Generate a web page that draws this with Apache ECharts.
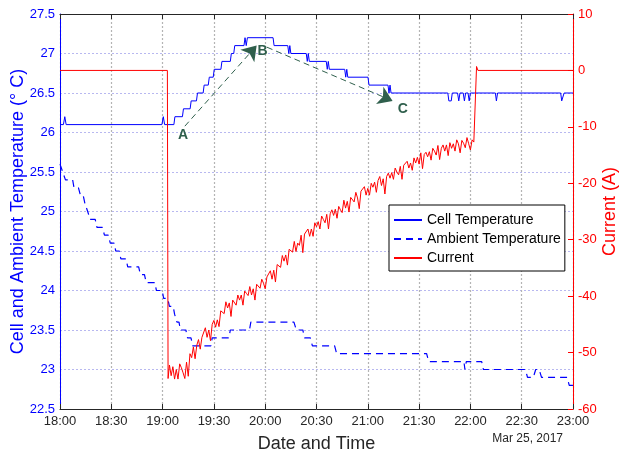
<!DOCTYPE html>
<html>
<head>
<meta charset="utf-8">
<script src="https://cdn.jsdelivr.net/npm/echarts@6/dist/echarts.min.js"></script>
<style>html,body{margin:0;padding:0;background:#fff;}#c{width:621px;height:452px;}</style>
</head>
<body>
<div id="c"></div>
<script>
// x values are minutes after 18:00
const timeLabels = ['18:00','18:30','19:00','19:30','20:00','20:30','21:00','21:30','22:00','22:30','23:00'];
const tempTicks = [22.5, 27.5, 0.5];
const currentTicks = [-60, 10, 10];

const cellTemp = [[0,26.1],[2,26.1],[2.8,26.2],[3.6,26.1],[59.6,26.1],[60.4,26.2],[61.2,26.1],[66.6,26.1],[67.2,26.2],[71.6,26.2],[72.2,26.3],[76.1,26.3],[76.7,26.4],[79.8,26.4],[80.4,26.5],[83.7,26.5],[84.3,26.6],[86.7,26.6],[87.3,26.7],[89.6,26.7],[90.2,26.8],[94.1,26.8],[94.7,26.9],[99.6,26.9],[100.2,27.0],[101.6,27.0],[102.2,27.1],[107.6,27.1],[108.2,27.2],[108.9,27.1],[109.6,27.2],[124.6,27.2],[125.2,27.1],[133.2,27.1],[133.8,27.0],[134.4,27.1],[135,27.0],[144,27.0],[144.6,26.9],[145.2,27.0],[145.8,26.9],[155.7,26.9],[156.3,26.8],[156.9,26.9],[157.5,26.8],[166.5,26.8],[167.1,26.7],[167.7,26.8],[168.3,26.7],[180.1,26.7],[180.7,26.6],[191.8,26.6],[192.4,26.5],[193,26.6],[193.6,26.5],[226.8,26.5],[227.4,26.4],[228.8,26.4],[229.4,26.5],[232.5,26.5],[233.2,26.4],[233.9,26.5],[235.8,26.5],[236.5,26.4],[237.2,26.5],[238.6,26.5],[239.3,26.4],[240,26.5],[254.6,26.5],[255.2,26.4],[255.9,26.5],[292.8,26.5],[293.4,26.4],[294.2,26.4],[294.8,26.5],[300,26.5]];

const ambientTemp = [[0,25.6],[3.2,25.4],[7.4,25.4],[8.2,25.3],[10.8,25.3],[12,25.2],[13.6,25.2],[14.6,25.1],[15.4,25.1],[16.2,25.0],[17.6,24.9],[20.6,24.9],[21.6,24.8],[24.8,24.8],[26,24.7],[28.2,24.7],[29.4,24.6],[31.6,24.6],[32.6,24.5],[34.6,24.5],[35.6,24.4],[38.6,24.4],[39.6,24.3],[46,24.3],[47,24.2],[49.4,24.2],[50.4,24.1],[55.4,24.1],[56.4,24.0],[59.8,24.0],[60.6,23.9],[63,23.9],[64,23.8],[66.2,23.8],[67,23.7],[68.4,23.6],[69.6,23.6],[70.4,23.5],[73.6,23.5],[74.6,23.4],[76.6,23.4],[77.6,23.3],[88.2,23.3],[89,23.4],[98.8,23.4],[99.6,23.5],[110.8,23.5],[111.6,23.6],[136.8,23.6],[138.2,23.5],[142,23.5],[143,23.4],[146.4,23.4],[147.6,23.3],[160.6,23.3],[161.8,23.2],[214.4,23.2],[215.6,23.1],[236.2,23.1],[236.8,23.0],[237.6,23.1],[246.6,23.1],[247.6,23.0],[272.2,23.0],[273.4,22.9],[276.8,22.9],[278.2,23.0],[280.2,23.0],[281.6,22.9],[296.6,22.9],[297.8,22.8],[300,22.8]];

const currentBefore = [[0,0],[62.8,0],[63.2,-54.6]];
const currentStartMinute = 64;
const currentVals = [-52.2,-54.1,-52.5,-54.7,-53.0,-54.7,-52.0,-52.7,-53.6,-54.6,-51.7,-54.2,
-50.2,-50.9,-49.0,-51.1,-48.7,-47.7,-49.4,-47.3,-47.5,-45.6,-47.3,-46.0,-47.9,-45.0,-44.3,-45.5,-44.2,-45.4,-42.6,-42.9,-43.1,-41.0,-42.1,-41.2,
-43.6,-40.7,-41.0,-41.6,-39.8,-40.7,-39.8,-41.6,-39.1,-39.5,-39.9,-38.3,-39.8,-38.7,-40.7,-37.9,-38.2,-38.6,-37.0,-37.7,
-38.7,-36.6,-36.7,-35.5,-37.0,-35.4,-37.5,-34.4,-34.5,-34.9,-32.8,-33.8,-32.7,-34.5,-31.7,-31.8,-32.2,-30.3,-32.1,-30.6,
-31.0,-29.2,-32.3,-29.0,-29.2,-28.1,-29.4,-28.1,-29.4,-27.0,-27.7,-26.8,-28.1,-25.8,-26.4,-27.0,-25.5,-28.1,-25.4,-24.7,
-25.7,-24.6,-26.2,-24.1,-24.7,-25.2,-23.0,-24.4,-23.2,-25.1,-22.5,-22.8,-23.3,-21.6,-22.6,-24.5,-21.4,-21.5,-20.6,-22.1,
-20.9,-22.1,-20.0,-20.7,-19.8,-21.6,-19.5,-18.8,-20.4,-19.2,-21.9,-18.8,-18.2,-19.1,-18.1,-19.3,-17.3,-18.0,-18.5,-17.0,
-19.3,-16.8,-17.0,-16.1,-17.3,-16.4,-17.7,-15.5,-16.4,-15.4,-16.6,-14.6,-17.4,-14.9,-14.5,-15.3,-14.4,-15.9,-13.8,-14.3,
-15.0,-13.3,-15.8,-13.8,-13.2,-14.3,-13.2,-15.1,-12.8,-13.8,-13.0,-14.3,-12.3,-13.0,-14.6,-12.4,-12.9,-13.7,-11.9,-13.0,
-14.1,-12.3,-12.7,-12.7];
const currentAfter = [[243.6,0.7],[244.4,0],[300,0]];

// annotation arrows (minute, temperature)
const arrowAB = [[73,26.08],[115,27.1]];
const arrowBC = [[121,27.08],[194.5,26.4]];
const annotLabels = [['A',72,25.97],['B',118.5,27.03],['C',200.5,26.3]];

const currentData = currentBefore
  .concat(currentVals.map((v,i)=>[currentStartMinute+i, v]))
  .concat(currentAfter);

const green = '#2f5f4c';
const chart = echarts.init(document.getElementById('c'), null, {renderer:'canvas'});
const font = 'Liberation Sans, Arial, sans-serif';
chart.setOption({
  animation: false,
  textStyle: {fontFamily: font},
  grid: {left: 60, right: 48, top: 14, bottom: 43, show: false, containLabel: false, outerBoundsMode: 'none'},
  legend: {
    orient: 'vertical', left: 389, top: 205,
    padding: [8, 4, 6, 4], itemGap: 5, itemWidth: 28, itemHeight: 14,
    borderColor: '#000', borderWidth: 1, backgroundColor: '#fff',
    itemStyle: {opacity: 0},
    textStyle: {fontSize: 14, color: '#000', fontFamily: font},
    data: ['Cell Temperature','Ambient Temperature','Current']
  },
  xAxis: [{
    type: 'value', min: 0, max: 300, interval: 30,
    name: 'Date and Time', nameLocation: 'middle', nameGap: 26,
    nameTextStyle: {fontSize: 18, color: '#262626'},
    axisLine: {onZero: false, lineStyle: {color: '#262626'}},
    axisTick: {inside: true, length: 5, lineStyle: {color: '#262626'}},
    axisLabel: {fontSize: 13, color: '#262626', margin: 6,
      formatter: v => timeLabels[Math.round(v/30)]},
    splitLine: {show: true, lineStyle: {color: '#b4b4b4', type: [2,2], width: 1.2}}
  },{
    type: 'value', min: 0, max: 300, interval: 30, position: 'top',
    axisLine: {onZero: false, lineStyle: {color: '#262626'}},
    axisTick: {inside: true, length: 5, lineStyle: {color: '#262626'}},
    axisLabel: {show: false}, splitLine: {show: false}
  }],
  yAxis: [{
    type: 'value', min: tempTicks[0], max: tempTicks[1], interval: tempTicks[2],
    name: 'Cell and Ambient Temperature (° C)', nameLocation: 'middle', nameGap: 33,
    nameMoveOverlap: false,
    nameTextStyle: {fontSize: 18, color: '#0000ff'},
    axisLine: {show: true, onZero: false, lineStyle: {color: '#0000ff'}},
    axisTick: {show: false},
    axisLabel: {fontSize: 13, color: '#0000ff', margin: 5},
    splitLine: {show: true, lineStyle: {color: '#b8b8f0', type: [2,2]}}
  },{
    type: 'value', min: currentTicks[0], max: currentTicks[1], interval: currentTicks[2],
    position: 'right',
    name: 'Current (A)', nameLocation: 'middle', nameGap: 28,
    nameMoveOverlap: false,
    nameTextStyle: {fontSize: 18, color: '#ff0000'},
    axisLine: {show: true, onZero: false, lineStyle: {color: '#ff0000'}},
    axisTick: {show: true, inside: true, length: 5, lineStyle: {color: '#ff0000'}},
    axisLabel: {fontSize: 13, color: '#ff0000', margin: 5},
    splitLine: {show: false}
  }],
  series: [{
    name: 'Cell Temperature', type: 'line', data: cellTemp, symbol: 'none',
    lineStyle: {color: '#0000ff', width: 1}, itemStyle: {color: '#0000ff'},
    markLine: {
      silent: true, symbol: ['none','arrow'], symbolSize: 14,
      label: {show: false},
      lineStyle: {color: green, type: [6,4], width: 1},
      itemStyle: {color: green},
      data: [
        [{coord: arrowAB[0]}, {coord: arrowAB[1]}],
        [{coord: arrowBC[0]}, {coord: arrowBC[1]}]
      ]
    },
    markPoint: {
      silent: true, symbol: 'rect', symbolSize: 1,
      itemStyle: {color: 'rgba(0,0,0,0)'},
      label: {show: true, position: 'inside', fontSize: 14, fontWeight: 'bold', color: green,
        formatter: p => p.name},
      data: annotLabels.map(a => ({name: a[0], coord: [a[1], a[2]]}))
    }
  },{
    name: 'Ambient Temperature', type: 'line', data: ambientTemp, symbol: 'none',
    lineStyle: {color: '#0000ff', width: 1.2, type: [7,5]}, itemStyle: {color: '#0000ff'}
  },{
    name: 'Current', type: 'line', yAxisIndex: 1, data: currentData, symbol: 'none',
    lineStyle: {color: '#ff0000', width: 1}, itemStyle: {color: '#ff0000'}
  }],
  graphic: [{
    type: 'text', right: 58, top: 433,
    style: {text: 'Mar 25, 2017', fontSize: 12, fill: '#262626', fontFamily: font}
  }]
});
</script>
</body>
</html>
